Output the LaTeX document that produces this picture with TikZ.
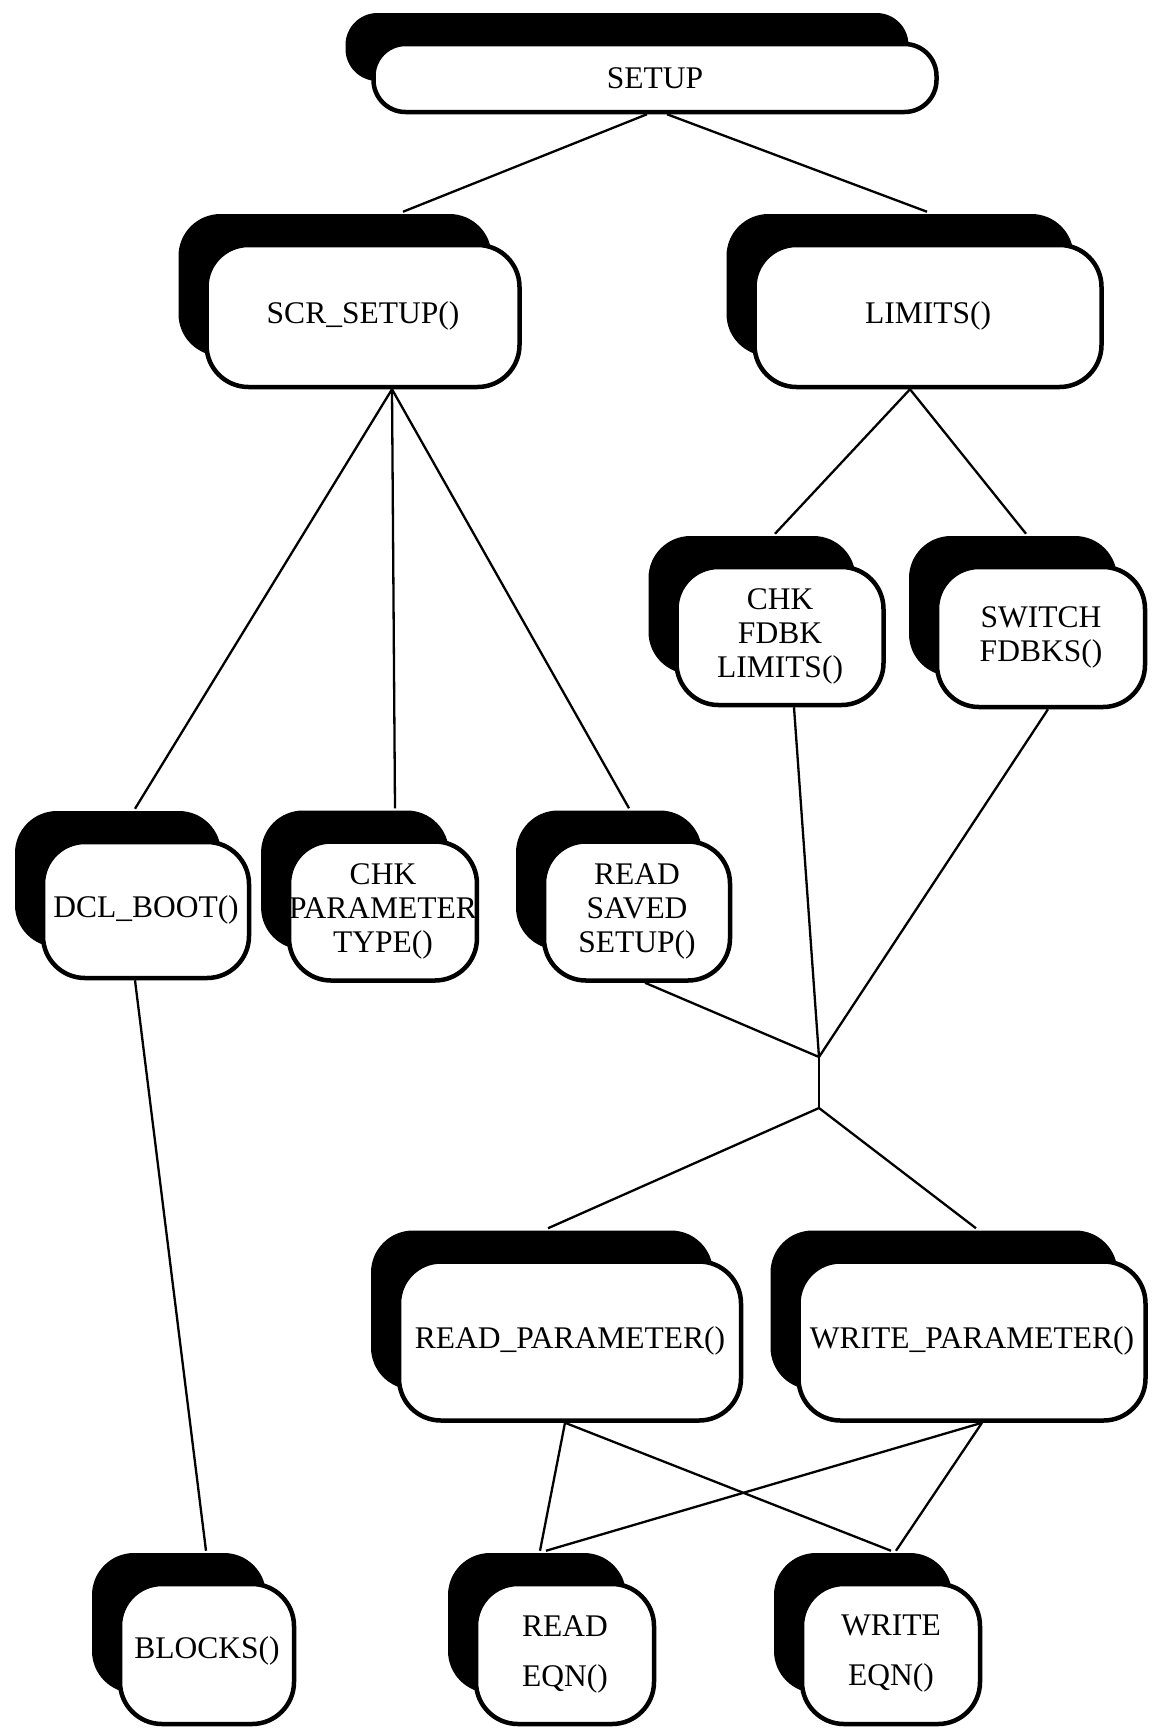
\documentclass[tikz,border=0pt]{standalone}
\usepackage{fontspec}
\setmainfont{Liberation Serif}
\usetikzlibrary{shadows}

\begin{document}
\begin{tikzpicture}[x=1pt, y=-1pt]

% Define styles
\tikzstyle{box} = [rectangle, rounded corners=42pt, draw=black, line width=4.5pt, fill=white, align=center, inner sep=0pt,
  font=\fontsize{31.5}{34}\selectfont,
  drop shadow={shadow xshift=-28pt, shadow yshift=31pt, fill=black, opacity=1}]
\tikzstyle{line} = [line width=2.3pt, black]

\useasboundingbox (0,0) rectangle (1156,1730);

% Top
\node[box, rounded corners=32pt, minimum width=563pt, minimum height=68pt] (setup) at (655,78) {SETUP};

% Second level
\node[box, minimum width=313pt, minimum height=142pt] (scrsetup) at (363,316) {SCR\_SETUP()};
\node[box, minimum width=347pt, minimum height=142pt] (limits) at (928,316) {LIMITS()};

% Under LIMITS()
\node[box, minimum width=207pt, minimum height=138pt] (chkfdbk) at (780,636) {CHK\\FDBK\\LIMITS()};
\node[box, minimum width=208pt, minimum height=140pt] (switch) at (1041,637) {SWITCH\\FDBKS()};

% Under SCR_SETUP()
\node[box, minimum width=206pt, minimum height=136pt] (dclboot) at (146,910) {DCL\_BOOT()};
\node[box, minimum width=183pt, minimum height=139pt] (chkparam) at (383,911) {CHK\\PARAMETER\\TYPE()};
\node[box, minimum width=186pt, minimum height=139pt] (readsaved) at (637,911) {READ\\SAVED\\SETUP()};

% Parameter access
\node[box, minimum width=342pt, minimum height=159pt] (readparam) at (570,1341) {READ\_PARAMETER()};
\node[box, minimum width=347pt, minimum height=159pt] (writeparam) at (972,1341) {WRITE\_PARAMETER()};

% Bottom row
\node[box, minimum width=174pt, minimum height=140pt] (blocks) at (207,1654) {\raisebox{12pt}{BLOCKS()}};
\node[box, minimum width=178pt, minimum height=140pt] (readeqn) at (565,1654) {READ\\[16pt]EQN()};
\node[box, minimum width=178pt, minimum height=140pt] (writeeqn) at (891,1654) {WRITE\\[16pt]EQN()};

% Junction points
\coordinate (merge) at (819,1057);
\coordinate (split) at (819,1108);

% Connectors
\draw[line] ([xshift=-8pt]setup.south) -- ([xshift=40pt, yshift=31pt]scrsetup.north);
\draw[line] ([xshift=12pt]setup.south) -- ([xshift=-1pt, yshift=31pt]limits.north);

\draw[line] ([xshift=29pt]scrsetup.south) -- ([xshift=-11pt, yshift=31pt]dclboot.north);
\draw[line] ([xshift=29pt]scrsetup.south) -- ([xshift=12pt, yshift=31pt]chkparam.north);
\draw[line] ([xshift=29pt]scrsetup.south) -- ([xshift=-8pt, yshift=31pt]readsaved.north);

\draw[line] ([xshift=-18pt]limits.south) -- ([xshift=-5pt, yshift=31pt]chkfdbk.north);
\draw[line] ([xshift=-18pt]limits.south) -- ([xshift=-15pt, yshift=31pt]switch.north);

\draw[line] ([xshift=14pt]chkfdbk.south) -- (merge);
\draw[line] ([xshift=7pt]switch.south) -- (merge);
\draw[line] ([xshift=8pt]readsaved.south) -- (merge);
\draw[line] (merge) -- (split);

\draw[line] (split) -- ([xshift=-22pt, yshift=31pt]readparam.north);
\draw[line] (split) -- ([xshift=4pt, yshift=31pt]writeparam.north);

\draw[line] ([xshift=-11pt]dclboot.south) -- ([xshift=-1pt, yshift=31pt]blocks.north);

\draw[line] ([xshift=-5pt]readparam.south) -- ([xshift=-25pt, yshift=31pt]readeqn.north);
\draw[line] ([xshift=-5pt]readparam.south) -- ([xshift=0pt, yshift=31pt]writeeqn.north);
\draw[line] ([xshift=10pt]writeparam.south) -- ([xshift=-19pt, yshift=31pt]readeqn.north);
\draw[line] ([xshift=10pt]writeparam.south) -- ([xshift=5pt, yshift=31pt]writeeqn.north);

\end{tikzpicture}
\end{document}
